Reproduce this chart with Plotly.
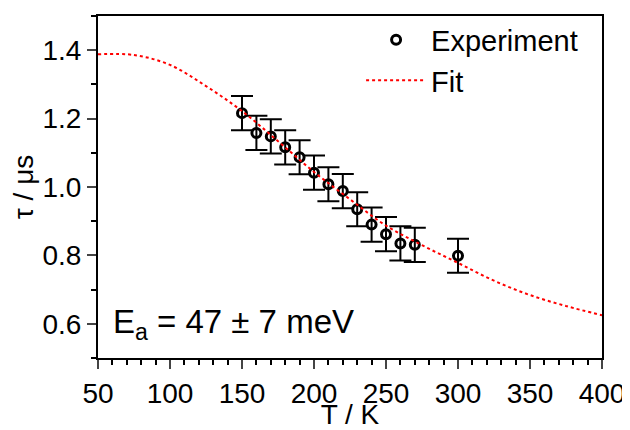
import plotly.graph_objects as go

# Experimental data
temps = [150, 160, 170, 180, 190, 200, 210, 220, 230, 240, 250, 260, 270, 300]
tau = [1.216, 1.158, 1.148, 1.116, 1.087, 1.042, 1.008, 0.988, 0.935, 0.890, 0.862, 0.835, 0.831, 0.799]
tau_err = [0.05, 0.05, 0.05, 0.05, 0.05, 0.05, 0.05, 0.05, 0.05, 0.05, 0.05, 0.05, 0.05, 0.05]

# Fit curve
fit_T = [50, 75, 100, 125, 150, 175, 200, 225, 250, 275, 300, 325, 350, 375, 400]
fit_tau = [1.388, 1.386, 1.357, 1.295, 1.222, 1.134, 1.044, 0.964, 0.887, 0.830, 0.778, 0.726, 0.684, 0.652, 0.625]

x_ticks = [50, 100, 150, 200, 250, 300, 350, 400]
y_ticks = [0.6, 0.8, 1.0, 1.2, 1.4]

FONT = "Arial, Liberation Sans, sans-serif"

fig = go.Figure()
fig.add_trace(go.Scatter(
    x=temps, y=tau, mode="markers", name="Experiment",
    marker=dict(symbol="circle-open", size=9, color="black", line=dict(width=3, color="black")),
    error_y=dict(type="data", array=tau_err, visible=True, color="black", thickness=2, width=11),
))
fig.add_trace(go.Scatter(
    x=fit_T, y=fit_tau, mode="lines", name="Fit",
    line=dict(color="#ff0000", width=2, dash="dot", shape="spline"),
))

fig.update_layout(
    width=622, height=422,
    margin=dict(l=90, r=28, t=6, b=72),
    paper_bgcolor="white", plot_bgcolor="white",
    font=dict(family=FONT, size=28, color="black"),
    showlegend=True,
    legend=dict(x=0.522, y=1.005, xanchor="left", yanchor="top",
                bgcolor="rgba(0,0,0,0)", font=dict(size=29, family=FONT),
                itemwidth=60, tracegroupgap=0),
    annotations=[dict(
        text="E<sub>a</sub> = 47 ± 7 meV", x=0.026, y=0.10, xref="paper", yref="paper",
        xanchor="left", yanchor="middle", showarrow=False,
        font=dict(size=33, family=FONT, color="black"),
    )],
)
fig.update_xaxes(
    range=[50, 400], tickvals=x_ticks, ticks="outside", ticklen=9, tickwidth=2,
    showline=True, linewidth=2, linecolor="black", mirror=True, showgrid=False, zeroline=False,
    minor=dict(dtick=10, tick0=50, ticks="outside", ticklen=5, tickwidth=2, tickcolor="black"),
    tickfont=dict(size=28, family=FONT), automargin=False,
    title=dict(text="T / K", standoff=2, font=dict(size=28, family=FONT)),
)
fig.update_yaxes(
    range=[0.5, 1.5], tickvals=y_ticks, tickformat=".1f", ticks="outside", ticklen=9, tickwidth=2,
    showline=True, linewidth=2, linecolor="black", mirror=True, showgrid=False, zeroline=False,
    minor=dict(dtick=0.1, tick0=0.5, ticks="outside", ticklen=5, tickwidth=2, tickcolor="black"),
    tickfont=dict(size=28, family=FONT), automargin=False,
    title=dict(text="τ / μs", standoff=4, font=dict(size=28, family=FONT)),
)

fig.write_html("out.html")
